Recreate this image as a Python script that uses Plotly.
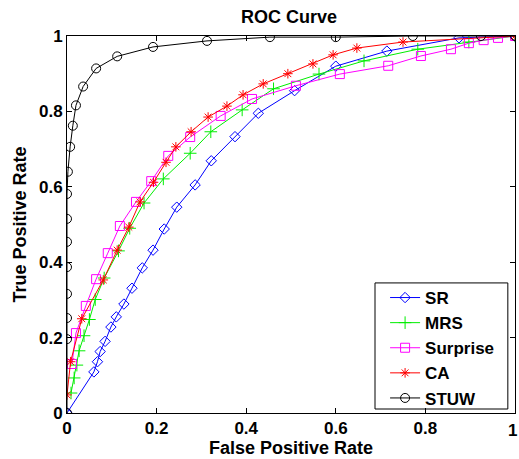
import plotly.graph_objects as go

# ---- data ----
sr_fpr = [0, 0.06, 0.068, 0.074, 0.085, 0.098, 0.11, 0.127, 0.145, 0.168, 0.192, 0.217,
          0.245, 0.286, 0.322, 0.375, 0.427, 0.508, 0.6, 0.714, 0.875, 1.0]
sr_tpr = [0, 0.109, 0.136, 0.163, 0.19, 0.228, 0.255, 0.289, 0.331, 0.385, 0.432, 0.488,
          0.546, 0.605, 0.669, 0.733, 0.795, 0.855, 0.92, 0.96, 0.995, 1.0]

mrs_fpr = [0.009, 0.016, 0.022, 0.027, 0.038, 0.05, 0.063, 0.083, 0.115, 0.14, 0.172,
           0.215, 0.275, 0.321, 0.391, 0.461, 0.5625, 0.663, 0.783, 0.897, 1.0]
mrs_tpr = [0.053, 0.093, 0.127, 0.165, 0.205, 0.248, 0.301, 0.358, 0.43, 0.49, 0.557,
           0.621, 0.689, 0.746, 0.804, 0.86, 0.899, 0.934, 0.965, 0.984, 1.0]

sur_fpr = [0.011, 0.02, 0.042, 0.065, 0.091, 0.118, 0.154, 0.188, 0.226, 0.275, 0.343,
           0.413, 0.511, 0.609, 0.717, 0.79, 0.857, 0.897, 0.93, 0.962, 1.0]
sur_tpr = [0.13, 0.212, 0.284, 0.355, 0.424, 0.496, 0.56, 0.615, 0.682, 0.732, 0.788,
           0.833, 0.868, 0.899, 0.921, 0.947, 0.965, 0.981, 0.989, 0.995, 1.0]

ca_fpr = [0, 0.008, 0.033, 0.081, 0.112, 0.138, 0.163, 0.193, 0.221, 0.243, 0.277,
          0.315, 0.357, 0.393, 0.438, 0.493, 0.549, 0.594, 0.647, 0.75, 1.0]
ca_tpr = [0.048, 0.136, 0.25, 0.353, 0.432, 0.493, 0.56, 0.612, 0.665, 0.706, 0.746,
          0.785, 0.814, 0.844, 0.873, 0.9, 0.926, 0.95, 0.968, 0.984, 1.0]

stuw_fpr = [0, 0, 0, 0, 0, 0, 0, 0, 0.002, 0.007, 0.013, 0.02, 0.036, 0.065, 0.112,
            0.192, 0.3125, 0.453, 0.6, 0.772, 0.924, 1.0]
stuw_tpr = [0, 0.196, 0.252, 0.316, 0.387, 0.454, 0.515, 0.581, 0.64, 0.706, 0.762,
            0.816, 0.866, 0.914, 0.946, 0.971, 0.987, 0.997, 0.997, 1.0, 1.0, 1.0]

x_ticks = [0, 0.2, 0.4, 0.6, 0.8, 1]
x_tick_labels = ["0", "0.2", "0.4", "0.6", "0.8", "1"]
y_ticks = [0, 0.2, 0.4, 0.6, 0.8, 1]
y_tick_labels = ["0", "0.2", "0.4", "0.6", "0.8", "1"]

FONT = "Liberation Sans, Arial, sans-serif"

series = [
    ("SR", sr_fpr, sr_tpr, "#0000ff", "diamond-open", 8),
    ("MRS", mrs_fpr, mrs_tpr, "#00ee00", "cross-thin-open", 9),
    ("Surprise", sur_fpr, sur_tpr, "#ff00ff", "square-open", 9),
    ("CA", ca_fpr, ca_tpr, "#ff0000", "asterisk-open", 8),
    ("STUW", stuw_fpr, stuw_tpr, "#000000", "circle-open", 9),
]

fig = go.Figure()
for name, xs, ys, col, sym, sz in series:
    fig.add_trace(go.Scatter(
        x=xs, y=ys, name=name, mode="lines+markers",
        line=dict(color=col, width=1),
        marker=dict(symbol=sym, size=sz, color=col, line=dict(color=col, width=1)),
    ))

tick_font = dict(family=FONT, size=17, color="black", weight="bold")
axis_common = dict(
    showline=True, linecolor="black", linewidth=1, mirror="ticks",
    ticks="inside", ticklen=5, tickcolor="black", showgrid=False, zeroline=False,
    automargin=False, ticklabeloverflow="allow", tickfont=tick_font,
)
title_font = dict(family=FONT, size=18, color="black", weight="bold")

# legend frame (drawn as a shape so its padding matches the reference)
fig.add_shape(type="rect", xref="paper", yref="paper",
              x0=0.6875, x1=0.984, y0=0.0106, y1=0.345,
              line=dict(color="black", width=1), fillcolor="white", layer="below")

# the last x tick label sits on the right edge of the page; keep it inside the figure
fig.add_annotation(x=x_ticks[-1], xref="x", y=0, yref="paper", yshift=-17, xshift=4,
                   text=x_tick_labels[-1], showarrow=False, xanchor="right",
                   yanchor="middle", font=tick_font)

fig.update_layout(
    width=519, height=459,
    margin=dict(l=67, r=4, t=36, b=46),
    paper_bgcolor="white", plot_bgcolor="white",
    title=dict(text="ROC Curve", x=0.557, xanchor="center", y=0.963, yanchor="middle",
               font=title_font),
    xaxis=dict(range=[0, 1], tickvals=x_ticks[:-1], ticktext=x_tick_labels[:-1],
               title=dict(text="False Positive Rate", standoff=2, font=title_font),
               **axis_common),
    yaxis=dict(range=[0, 1], tickvals=y_ticks, ticktext=y_tick_labels,
               title=dict(text="True Positive Rate", standoff=7, font=title_font),
               **axis_common),
    legend=dict(x=0.71, y=0.3528, xanchor="left", yanchor="top",
                borderwidth=0, bgcolor="rgba(0,0,0,0)",
                font=dict(family=FONT, size=17, color="black", weight="bold"),
                tracegroupgap=0),
    showlegend=True,
)

# remove the browser's default 8px body margin so the figure fills the window exactly
fig.write_html("out.html",
               config={"displayModeBar": False},
               post_script="document.body.style.margin='0';document.body.style.overflow='hidden';")
